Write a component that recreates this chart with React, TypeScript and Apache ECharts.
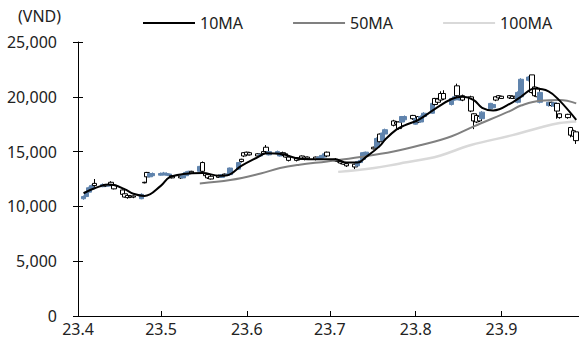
import React, { useEffect, useRef } from "react";
import * as echarts from "echarts";

// trading days (2023, MM-DD)
const tradeDates = [
  "04-03","04-04","04-05","04-06","04-07","04-10","04-11","04-12","04-13","04-14",
  "04-17","04-18","04-19","04-20","04-21","04-24","04-25","04-26","04-27","04-28",
  "05-01","05-02","05-03","05-04","05-05","05-08","05-09","05-10","05-11","05-12",
  "05-15","05-16","05-17","05-18","05-19","05-22","05-23","05-24","05-25","05-26",
  "05-29","05-30","05-31","06-01","06-02","06-05","06-06","06-07","06-08","06-09",
  "06-12","06-13","06-14","06-15","06-16","06-19","06-20","06-21","06-22","06-23",
  "06-26","06-27","06-28","06-29","06-30","07-03","07-04","07-05","07-06","07-07",
  "07-10","07-11","07-12","07-13","07-14","07-17","07-18","07-19","07-20","07-21",
  "07-24","07-25","07-26","07-27","07-28","07-31","08-01","08-02","08-03","08-04",
  "08-07","08-08","08-09","08-10","08-11","08-14","08-15","08-16","08-17","08-18",
  "08-21","08-22","08-23","08-24","08-25","08-28","08-29","08-30","08-31","09-01",
  "09-04","09-05","09-06","09-07","09-08","09-11","09-12","09-13","09-14","09-15",
  "09-18","09-19","09-20","09-21","09-22","09-25","09-26","09-27","09-28",
];

// [open, close, low, high]
const ohlc = [
  [10700,10900,10600,11000],[10900,11300,10850,11350],[11300,11700,11250,11800],[11600,11900,11550,12000],[12100,11900,11800,12500],
  [11800,12000,11750,12100],[12000,11850,11800,12050],[11850,12000,11800,12100],[12200,11950,11900,12300],[11950,11600,11550,12050],
  [11500,11100,11050,11550],[11150,10850,10800,11200],[11000,10800,10700,11050],[10950,10850,10800,11000],[10950,10850,10750,11000],
  [10700,11100,10650,11200],[12200,12150,12100,12250],[13100,12700,12200,13150],[12700,13000,12650,13100],[12800,13000,12750,13100],
  [12850,13000,12800,13100],[12900,13050,12850,13150],[12850,13000,12800,13100],[12800,12950,12750,13000],[12800,12600,12550,12850],
  [12750,12600,12500,12800],[12600,12800,12550,12850],[12800,13100,12750,13200],[12950,13200,12900,13250],[13200,13050,13000,13250],
  [13200,13650,13150,13700],[14000,13200,13100,14100],[13000,12800,12700,13050],[12900,12600,12500,12950],[12750,12500,12450,12800],
  [12800,12650,12600,12900],[12650,12900,12600,12950],[12950,12850,12800,13000],[12850,12950,12800,13000],[12900,13500,12850,13550],
  [13400,14000,13350,14050],[14300,14100,14000,14350],[14900,14600,14500,14950],[14950,14700,14600,15000],[14900,14700,14650,14950],
  [14800,14600,14550,14850],[14600,14750,14550,14800],[15000,14800,14700,15100],[15400,15000,14900,15600],[14700,15000,14650,15050],
  [14800,15000,14750,15100],[14600,14900,14550,14950],[14900,14700,14600,15000],[14800,14500,14450,14850],[14500,14200,14100,14550],
  [14450,14200,14100,14500],[14400,14300,14200,14450],[14600,14400,14300,14650],[14500,14300,14200,14550],[14500,14350,14250,14550],
  [14500,14300,14200,14550],[14300,14500,14250,14550],[14400,14650,14350,14700],[14500,14800,14450,14900],[14950,14600,14500,15000],
  [14300,14150,14100,14400],[14200,14100,14000,14300],[14100,13950,13850,14150],[14000,13850,13800,14100],[13900,13700,13600,14000],
  [13850,13600,13400,13900],[13700,14100,13650,14150],[14000,14200,13950,14300],[14300,14900,14250,14950],[14600,14950,14550,15000],
  [15400,15250,15200,15450],[15400,16200,15350,16300],[16600,15900,15850,16650],[16000,16700,15900,16800],[16600,17000,16500,17100],
  [17800,17400,17300,17900],[17700,17500,17400,17800],[17700,17100,17000,17750],[17700,18200,17650,18250],[17900,18200,17850,18300],
  [18300,18000,17900,18350],[17500,18000,17450,18100],[18200,17700,17600,18250],[17700,18200,17650,18300],[18200,18500,18100,18600],
  [18500,19400,18450,19450],[19850,19300,19200,19900],[19800,19500,19400,19900],[20300,19700,19650,20500],[20300,19800,19700,20600],
  [19300,19850,19200,19900],[19700,20000,19650,20100],[21000,20100,20000,21200],[19700,20000,19650,20100],[20100,19700,19600,20200],
  [20000,18700,18600,20100],[18450,17800,17050,18500],[18300,17700,17600,18400],[18200,17800,17700,18300],[18000,18600,17950,18700],
  [18900,19400,18850,19450],[19000,19300,18950,19400],[20000,19700,19600,20050],[20100,19900,19800,20150],[20050,19850,19800,20100],
  [20100,19900,19800,20150],[20050,19850,19800,20100],[20050,19900,19800,20100],[19500,20400,19400,20500],[20000,21600,19800,21700],
  [21500,21800,21400,21900],[22000,20400,20300,22000],[20900,20100,20000,21000],[20800,20000,19900,20900],[19500,20400,19400,20500],
  [19200,19500,19100,19550],[19500,19200,19100,19550],[19150,19450,19100,19500],[19400,18700,18000,19450],[18450,18100,18000,18500],
  [18400,18100,18000,18450],[17200,16500,16300,17250],[16900,16400,16300,17000],[16800,16000,15700,16850],
];

const ma10: [string, number][] = [
  ["04-03",11200],["04-07",11650],["04-12",12000],["04-14",11950],["04-18",11550],["04-21",11150],
  ["04-25",10950],["05-01",11900],["05-04",12650],["05-09",12950],["05-16",13050],["05-22",12800],
  ["05-25",12850],["05-30",13700],["06-05",14500],["06-08",14850],["06-14",14750],["06-20",14350],
  ["06-27",14300],["07-03",14300],["07-07",14000],["07-11",14000],["07-14",14500],["07-19",15500],
  ["07-21",16100],["07-25",17000],["07-28",17400],["08-02",17900],["08-08",18900],["08-14",19800],
  ["08-18",20000],["08-22",19700],["08-25",19000],["08-29",18750],["09-05",19500],["09-08",20000],
  ["09-13",20750],["09-18",20500],["09-22",19650],["09-28",17900],
];
const ma50: [string, number][] = [
  ["05-15",12100],["05-26",12400],["06-06",13000],["06-13",13500],["06-20",13800],["06-30",14100],
  ["07-12",14500],["07-24",15000],["08-03",15600],["08-14",16400],["08-22",17300],["09-04",18700],
  ["09-08",19200],["09-15",19650],["09-22",19700],["09-28",19400],
];
const ma100: [string, number][] = [
  ["07-04",13150],["07-17",13500],["07-26",13900],["08-04",14300],["08-10",14650],["08-21",15600],
  ["09-05",16500],["09-15",17200],["09-22",17600],["09-28",17750],
];

const yTicks = [0, 5000, 10000, 15000, 20000, 25000];
const BLUE = "#6084ad";
const FONT = "'Noto Sans', 'Noto Sans CJK KR', sans-serif";
const FS = 16;

function buildCalendar(): string[] {
  const out: string[] = [];
  const d = new Date(Date.UTC(2023, 3, 1));
  const end = Date.UTC(2023, 8, 29);
  while (d.getTime() <= end) {
    const m = String(d.getUTCMonth() + 1).padStart(2, "0");
    const dd = String(d.getUTCDate()).padStart(2, "0");
    out.push(`${m}-${dd}`);
    d.setUTCDate(d.getUTCDate() + 1);
  }
  return out;
}

export default function App() {
  const ref = useRef<HTMLDivElement>(null);
  useEffect(() => {
    document.body.style.margin = "0";
    if (!ref.current) return;
    const chart = echarts.init(ref.current, undefined, { renderer: "svg" });
    const cal = buildCalendar();
    const candleMap: Record<string, number[]> = {};
    tradeDates.forEach((d, i) => (candleMap[d] = ohlc[i]));
    const toLine = (pts: [string, number][]) => {
      const m: Record<string, number> = {};
      pts.forEach(([d, v]) => (m[d] = v));
      return cal.map((d) => (d in m ? m[d] : "-"));
    };
    const isMonthStart = (idx: number) => cal[idx].endsWith("-01");
    const yBase = {
      type: "value" as const,
      min: yTicks[0],
      max: yTicks[yTicks.length - 1],
      interval: 5000,
      splitLine: { show: false },
    };
    chart.setOption({
      animation: false,
      textStyle: { fontFamily: FONT },
      grid: { left: 78, right: 0, top: 42, bottom: 29, containLabel: false },
      legend: {
        data: ["10MA", "50MA", "100MA"],
        left: 138,
        top: 10,
        icon: "rect",
        itemWidth: 52,
        itemHeight: 2,
        itemGap: 50,
        textStyle: { fontSize: FS, color: "#222", fontFamily: FONT },
      },
      graphic: [
        {
          type: "text",
          left: 18,
          top: 8,
          style: { text: "(VND)", fontSize: FS, fill: "#222", fontFamily: FONT },
        },
      ],
      xAxis: {
        type: "category",
        data: cal,
        boundaryGap: false,
        axisLine: { lineStyle: { color: "#000", width: 1 } },
        axisTick: { inside: true, length: 5, interval: (i: number) => isMonthStart(i), lineStyle: { color: "#000" } },
        axisLabel: {
          interval: (i: number) => isMonthStart(i),
          formatter: (v: string) => `23.${parseInt(v.slice(0, 2), 10)}`,
          fontSize: FS,
          color: "#222",
          margin: 5,
          fontFamily: FONT,
        },
        splitLine: { show: false },
      },
      yAxis: [
        {
          ...yBase,
          axisLine: { show: true, lineStyle: { color: "#000", width: 1 } },
          axisTick: { show: true, inside: false, length: 5, lineStyle: { color: "#000" } },
          axisLabel: {
            fontSize: FS,
            color: "#222",
            margin: 21,
            fontFamily: FONT,
            formatter: (v: number) => v.toLocaleString("en-US"),
          },
        },
        {
          ...yBase,
          position: "left",
          axisLine: { show: false },
          axisTick: { show: true, inside: true, length: 5, lineStyle: { color: "#000" } },
          axisLabel: { show: false },
        },
      ],
      series: [
        {
          name: "candle",
          type: "candlestick",
          data: cal.map((d) => (candleMap[d] ? candleMap[d] : "-")),
          barWidth: 5,
          itemStyle: {
            color: BLUE,
            color0: "#ffffff",
            borderColor: BLUE,
            borderColor0: "#000000",
            borderWidth: 1,
          },
        },
        {
          name: "10MA",
          type: "line",
          data: toLine(ma10),
          connectNulls: true,
          smooth: 0.4,
          symbol: "none",
          color: "#000000",
          lineStyle: { color: "#000000", width: 2 },
          z: 5,
        },
        {
          name: "50MA",
          type: "line",
          data: toLine(ma50),
          connectNulls: true,
          smooth: 0.4,
          symbol: "none",
          color: "#808080",
          lineStyle: { color: "#808080", width: 2 },
          z: 4,
        },
        {
          name: "100MA",
          type: "line",
          data: toLine(ma100),
          connectNulls: true,
          smooth: 0.4,
          symbol: "none",
          color: "#d9d9d9",
          lineStyle: { color: "#d9d9d9", width: 2.5 },
          z: 3,
        },
      ],
    });
    return () => chart.dispose();
  }, []);
  return <div ref={ref} style={{ width: 579, height: 345 }} />;
}
